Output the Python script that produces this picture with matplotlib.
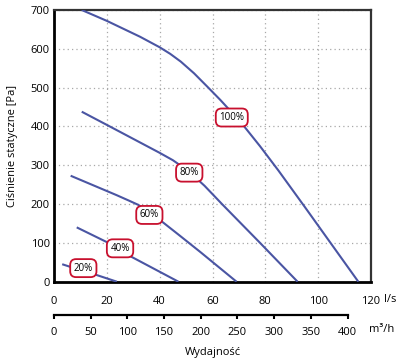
import matplotlib
matplotlib.use("Agg")
import matplotlib.pyplot as plt

plt.rcParams['font.family'] = ['Open Sans', 'DejaVu Sans']

# fan curves: flow [l/s] vs static pressure [Pa]
q_100 = [10.5, 20, 32.6, 40, 44, 48, 53, 58.4, 63, 68, 72, 78, 85, 95, 115.2]
p_100 = [700, 672, 631, 604, 587, 567, 537, 500, 468, 431, 400, 349, 286, 192, 0]

q_80 = [10.5, 20, 30, 40, 45, 49, 53, 57, 63.6, 78, 92.2]
p_80 = [438, 404, 368, 332, 313, 294, 272, 247, 200, 100, 0]

q_60 = [6.3, 15, 23.7, 28, 31.9, 40.1, 47, 55.3, 69.1]
p_60 = [273, 248, 223, 210, 198, 159, 122, 77, 0]

q_40 = [8.6, 20.6, 28.8, 47.1]
p_40 = [140, 100, 66, 0]

q_20 = [3.1, 9, 14.9, 23.8]
p_20 = [45, 32, 20, 0]

curves = [(q_100, p_100), (q_80, p_80), (q_60, p_60), (q_40, p_40), (q_20, p_20)]

labels = ["100%", "80%", "60%", "40%", "20%"]
label_q = [67.3, 51.2, 36.1, 25, 11.1]
label_p = [423, 281, 172, 86, 35]

x_ticks = [0, 20, 40, 60, 80, 100, 120]
y_ticks = [0, 100, 200, 300, 400, 500, 600, 700]
m3h_ticks = [0, 50, 100, 150, 200, 250, 300, 350, 400]

LINE = "#4a55a3"
RED = "#c8102e"

fig = plt.figure(figsize=(4, 3.62), dpi=100)
ax = fig.add_axes([54 / 400, 1 - 281.7 / 362, 317 / 400, 271.7 / 362])

for q, p in curves:
    ax.plot(q, p, color=LINE, lw=1.5, solid_capstyle='butt', solid_joinstyle='round', zorder=3)

for txt, q, p in zip(labels, label_q, label_p):
    ax.text(q, p, txt, ha='center', va='center', fontsize=7, zorder=4,
            bbox=dict(boxstyle='round,pad=0.36,rounding_size=0.6',
                      fc='white', ec=RED, lw=1.3))

ax.set_xlim(0, 120)
ax.set_ylim(0, 700)
ax.set_xticks(x_ticks)
ax.set_yticks(y_ticks)
ax.tick_params(length=0, labelsize=8)
ax.tick_params(axis='x', pad=10)
ax.tick_params(axis='y', pad=3)
ax.grid(True, color='#a8a8a8', lw=0.9, ls=(0, (1, 2.5)))
ax.set_axisbelow(True)
for s in ax.spines.values():
    s.set_linewidth(2)
    s.set_color('black')
ax.spines['top'].set_color('#333333')
ax.spines['right'].set_color('#333333')
ax.spines['top'].set_linewidth(1.6)
ax.spines['right'].set_linewidth(1.6)

ax.set_ylabel("Ciśnienie statyczne [Pa]", fontsize=8)
ax.yaxis.set_label_coords(-(54 - 18) / 317, 0.5)

# second flow scale in m3/h
sec = ax.secondary_xaxis(-33 / 271.7, functions=(lambda x: x * 3.6, lambda x: x / 3.6))
sec.set_xticks(m3h_ticks)
sec.tick_params(direction='out', length=3, width=1.5, labelsize=8, pad=6)
sec.spines['bottom'].set_linewidth(1.6)
sec.spines['bottom'].set_bounds(0, 400)

fig.text(390 / 400, 1 - 299 / 362, "l/s", fontsize=8, ha='center', va='center')
fig.text(381.5 / 400, 1 - 330 / 362, "m³/h", fontsize=8, ha='center', va='center')
fig.text(212.5 / 400, 1 - 352 / 362, "Wydajność", fontsize=8, ha='center', va='center')

fig.savefig("out.png", dpi=100)
